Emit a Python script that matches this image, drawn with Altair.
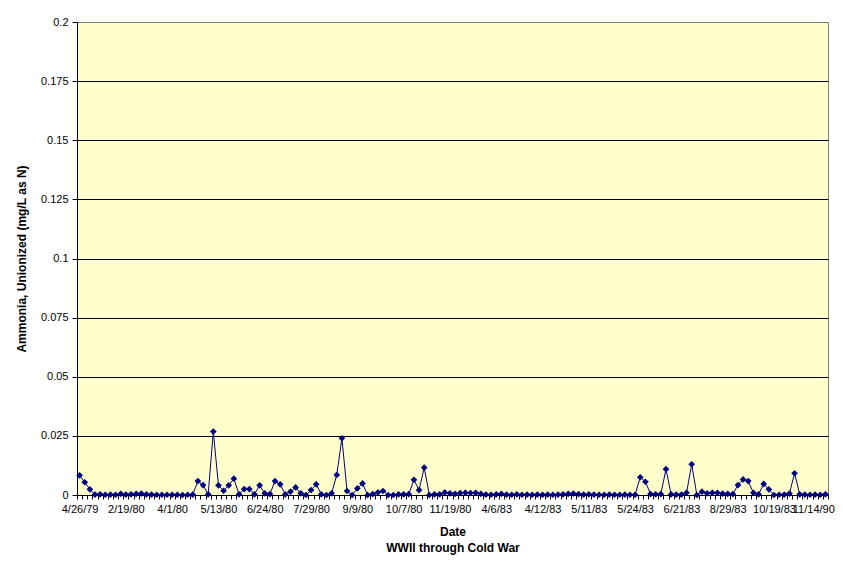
import json
import altair as alt
import pandas as pd

# Unionized ammonia (mg/L as N), one value per sampled date (category order)
values = [
    0.0083, 0.0054, 0.0024, 0.0002, 0.0003, 0.0001, 0.0002, 0.0001, 0.0005, 0.0002,
    0.0003, 0.0005, 0.0006, 0.0003, 0.0002, 0.0001, 0.0001, 0.0001, 0.0001, 0.0001,
    0.0000, 0.0001, 0.0002, 0.0059, 0.0042, 0.0003, 0.0268, 0.0041, 0.0018, 0.0041,
    0.0069, 0.0003, 0.0025, 0.0025, 0.0003, 0.0041, 0.0007, 0.0004, 0.0059, 0.0045,
    0.0003, 0.0014, 0.0032, 0.0007, 0.0000, 0.0021, 0.0045, 0.0003, 0.0000, 0.0007,
    0.0085, 0.0240, 0.0017, 0.0000, 0.0028, 0.0049, 0.0000, 0.0004, 0.0011, 0.0017,
    0.0000, 0.0000, 0.0003, 0.0003, 0.0004, 0.0064, 0.0021, 0.0116, 0.0000, 0.0003,
    0.0003, 0.0011, 0.0007, 0.0005, 0.0008, 0.0010, 0.0008, 0.0009, 0.0005, 0.0002,
    0.0001, 0.0003, 0.0005, 0.0002, 0.0001, 0.0003, 0.0001, 0.0002, 0.0001, 0.0002,
    0.0001, 0.0002, 0.0001, 0.0002, 0.0003, 0.0005, 0.0006, 0.0004, 0.0002, 0.0003,
    0.0002, 0.0001, 0.0001, 0.0002, 0.0001, 0.0001, 0.0002, 0.0001, 0.0001, 0.0075,
    0.0056, 0.0004, 0.0003, 0.0004, 0.0109, 0.0003, 0.0002, 0.0002, 0.0009, 0.0130,
    0.0000, 0.0014, 0.0007, 0.0010, 0.0009, 0.0006, 0.0005, 0.0004, 0.0042, 0.0066,
    0.0059, 0.0009, 0.0003, 0.0047, 0.0024, 0.0000, 0.0001, 0.0002, 0.0006, 0.0092,
    0.0003, 0.0002, 0.0001, 0.0002, 0.0001, 0.0003,
]

# Date labels shown on the category axis (every 9th category)
tick_labels = [
    "4/26/79", "2/19/80", "4/1/80", "5/13/80", "6/24/80", "7/29/80", "9/9/80",
    "10/7/80", "11/19/80", "4/6/83", "4/12/83", "5/11/83", "5/24/83", "6/21/83",
    "8/29/83", "10/19/83", "11/14/90",
]
label_step = 9

y_ticks = [0, 0.025, 0.05, 0.075, 0.1, 0.125, 0.15, 0.175, 0.2]

df = pd.DataFrame({"idx": list(range(len(values))), "value": values})

FONT = "Liberation Sans"
NAVY = "#000080"

last_label_idx = (len(tick_labels) - 1) * label_step

label_expr = (
    f"datum.value % {label_step} == 0 ? "
    f"({json.dumps(tick_labels)})[datum.value / {label_step}] : ''"
)

x_enc = alt.X(
    "idx:O",
    scale=alt.Scale(type="band", paddingInner=0, paddingOuter=0),
    axis=alt.Axis(
        title=["Date", "WWII through Cold War"],
        titleFont=FONT,
        titleFontSize=12,
        titleFontWeight="bold",
        titleLineHeight=16,
        titleColor="black",
        titleBaseline="top",
        titleY=31,
        labelExpr=label_expr,
        labelAngle=0,
        labelOverlap=False,
        labelFont=FONT,
        labelFontSize=11,
        labelColor="black",
        labelPadding=4,
        labelOffset=alt.condition(
            f"datum.value == {last_label_idx}", alt.value(-7), alt.value(0)
        ),
        tickBand="extent",
        tickSize=4,
        tickColor="black",
        domainColor="black",
        grid=False,
    ),
)

y_enc = alt.Y(
    "value:Q",
    scale=alt.Scale(domain=[0, 0.2], nice=False, zero=True),
    axis=alt.Axis(
        title="Ammonia, Unionized (mg/L as N)",
        titleFont=FONT,
        titleFontSize=12,
        titleFontWeight="bold",
        titleColor="black",
        titleAngle=270,
        titleBaseline="middle",
        titleAlign="center",
        titleX=-56,
        titleY=236.5,
        values=y_ticks,
        labelExpr="format(datum.value, '.3~g')",
        labelFont=FONT,
        labelFontSize=11,
        labelColor="black",
        labelPadding=4,
        tickSize=5,
        tickColor="black",
        domainColor="black",
        grid=True,
        gridColor=alt.condition("datum.value >= 0.2", alt.value("#808080"), alt.value("black")),
        gridWidth=1,
    ),
)

base = alt.Chart(df).encode(x=x_enc, y=y_enc)

line = base.mark_line(color=NAVY, strokeWidth=1)
points = base.mark_point(shape="diamond", filled=True, color=NAVY, size=45, opacity=1)

chart = (
    alt.layer(line, points)
    .properties(
        width=751,
        height=473,
        autosize=alt.AutoSizeParams(type="none"),
        padding={"left": 69, "top": 14, "right": 7, "bottom": 62},
        background="white",
    )
    .configure_view(fill="#FFFFCC", stroke="#808080", strokeWidth=1)
)

chart.save("out.html", embed_options={"renderer": "svg", "actions": False})
